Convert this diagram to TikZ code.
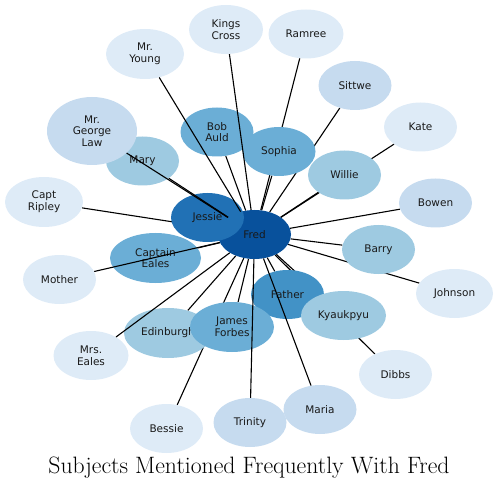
\documentclass[tikz,border=0pt]{standalone}
\usepackage{fontspec}
\newfontfamily\nodefont{DejaVu Sans}
\usepackage{tikz}
\usetikzlibrary{shapes.geometric}

\pgfdeclarelayer{background}
\pgfdeclarelayer{foreground}
\pgfsetlayers{background,main,foreground}

\definecolor{toneA}{HTML}{DEEBF7}
\definecolor{toneB}{HTML}{C6DBEF}
\definecolor{toneC}{HTML}{9ECAE1}
\definecolor{toneD}{HTML}{6BAED6}
\definecolor{toneE}{HTML}{4292C6}
\definecolor{toneF}{HTML}{2171B5}
\definecolor{toneG}{HTML}{08519C}

\begin{document}
\begin{tikzpicture}[
    x=1pt,y=-1pt,
    subj/.style={
        ellipse, inner sep=0pt,
        minimum width=73pt,
        minimum height=49pt,
        align=center,
        font=\nodefont\fontsize{10.5}{11.7}\selectfont,
        text=black!90
    },
    link/.style={line width=1.1pt, black}
]
\useasboundingbox (0,0) rectangle (498,489);

% --- Subjects, back to front ---
\node[subj, fill=toneC] (mary) at (142.5,161) {Mary};
\node[subj, fill=toneB, minimum width=90pt, minimum height=68pt] (law) at (92,131) {Mr.\\George\\Law};
\node[subj, fill=toneA, minimum width=78pt, minimum height=50pt] (young) at (145,54) {Mr.\\Young};
\node[subj, fill=toneA, minimum width=74pt] (kings) at (226,29.5) {Kings\\Cross};
\node[subj, fill=toneA, minimum width=75pt] (ramree) at (306,34) {Ramree};
\node[subj, fill=toneG] (fred) at (254.5,234.5) {Fred};
\node[subj, fill=toneD, minimum width=91pt, minimum height=50pt] (eales) at (155.5,258) {Captain\\Eales};
\node[subj, fill=toneF] (jessie) at (207.5,217.5) {Jessie};
\node[subj, fill=toneD] (bob) at (217,132) {Bob\\Auld};
\node[subj, fill=toneD] (sophia) at (279,151.5) {Sophia};
\node[subj, fill=toneB] (sittwe) at (355,85.5) {Sittwe};
\node[subj, fill=toneA] (kate) at (420.5,127) {Kate};
\node[subj, fill=toneC] (willie) at (344.5,175) {Willie};
\node[subj, fill=toneB] (bowen) at (435.5,203) {Bowen};
\node[subj, fill=toneA, minimum width=78pt, minimum height=50pt] (ripley) at (44,202) {Capt\\Ripley};
\node[subj, fill=toneC] (barry) at (378.5,249.5) {Barry};
\node[subj, fill=toneA] (mother) at (59.5,279.5) {Mother};
\node[subj, fill=toneA, minimum width=77pt] (johnson) at (454.5,293.5) {Johnson};
\node[subj, fill=toneE] (father) at (287.5,294.5) {Father};
\node[subj, fill=toneC, minimum width=88pt, minimum height=50pt] (edinburgh) at (168,333) {Edinburgh};
\node[subj, fill=toneD, minimum width=84pt, minimum height=50pt] (forbes) at (232,327) {James\\Forbes};
\node[subj, fill=toneC, minimum width=85pt] (kyaukpyu) at (343.5,315.5) {Kyaukpyu};
\node[subj, fill=toneA, minimum width=75pt] (mrseales) at (91,355.5) {Mrs.\\Eales};
\node[subj, fill=toneA] (dibbs) at (395.5,374.5) {Dibbs};
\node[subj, fill=toneA] (bessie) at (166.5,428.5) {Bessie};
\node[subj, fill=toneB] (trinity) at (250,422.5) {Trinity};
\node[subj, fill=toneB] (maria) at (320,409.5) {Maria};

% --- Links hidden behind the subjects ---
\begin{pgfonlayer}{background}
\foreach \n in {jessie,ripley,eales,bob,sophia,ramree,sittwe,willie,kate,
    bowen,barry,johnson,father,kyaukpyu,dibbs,edinburgh,forbes,bessie}
    \draw[link] (\n) -- (fred);
\end{pgfonlayer}

% --- Links drawn over the subjects ---
\begin{pgfonlayer}{foreground}
\foreach \n in {law,mary,young,kings,mother,mrseales,trinity,maria}
    \draw[link] (\n) -- (fred);
\end{pgfonlayer}

% --- Title ---
\node[anchor=base, font=\fontsize{23.7}{28}\selectfont] (title) at (249,473)
{Subjects Mentioned Frequently With Fred};

\end{tikzpicture}
\end{document}
